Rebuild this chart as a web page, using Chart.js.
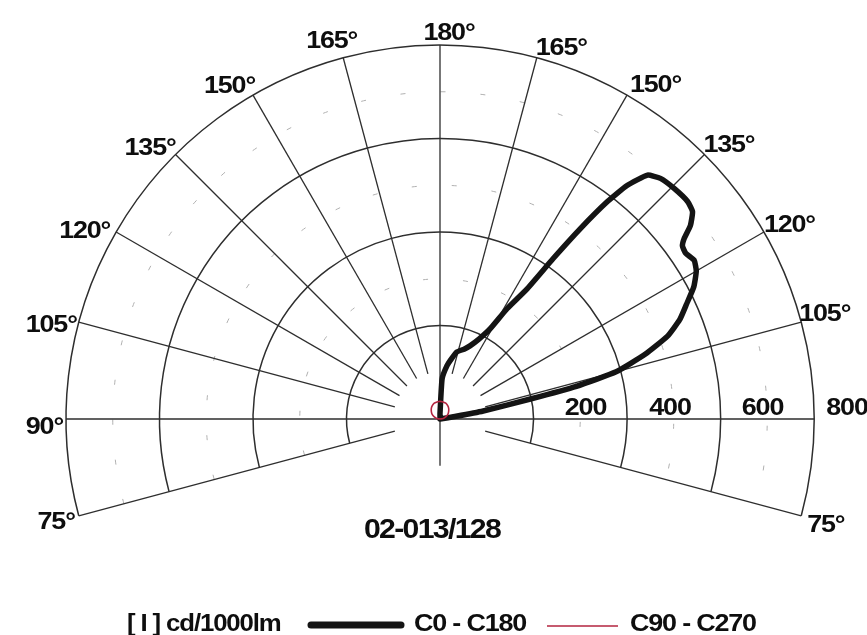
<!DOCTYPE html>
<html>
<head>
<meta charset="utf-8">
<script src="https://cdn.jsdelivr.net/npm/chart.js@4.4.0/dist/chart.umd.min.js"></script>
<style>
    html, body { margin: 0; padding: 0; background: #fff; }
    #wrap { width: 867px; height: 635px; }
</style>
</head>
<body>
<div id="wrap"><canvas id="polarChart" width="867" height="635"></canvas></div>
<script>
// Data (gamma in degrees, intensity in cd/1000lm)
const c0Angles = [90, 98, 99.5, 100.5, 102.5, 103.5, 105, 107.5, 110, 112.5, 115, 117.5, 120, 122, 124, 125.5, 126.5, 127.7, 129.4, 131.3, 134.5, 137.5, 139.6, 141.3, 142.4, 143.6, 144.8, 146.2, 148.7, 150.9, 154, 157.7, 161, 165.8, 169, 172.5, 177, 180];
const c0Values = [0, 0, 35, 94, 198, 300, 390, 460, 518, 555, 582, 612, 633, 641, 634, 637, 650, 677, 699, 705, 703, 698, 685, 640, 587, 506, 420, 335, 276, 221, 190, 169, 158, 148, 132, 115, 86, 12];
const c180Angles = [180, 178, 150, 120, 90];
const c180Values = [12, 0, 0, 0, 0];

const c90Angles = [90, 100, 110, 120, 130, 140, 150, 160, 170, 180];
const c90Values = [0, 7, 13, 19, 24, 29, 33, 36, 37, 38];
const c270Angles = [180, 170, 160, 150, 140, 130, 120, 110, 100, 90];
const c270Values = [38, 37, 36, 33, 29, 24, 19, 13, 7, 0];

const ringValues = [200, 400, 600, 800];
const dashedRingValues = [300, 500, 700];
const spokeAngles = [75, 90, 105, 120, 135, 150, 165];
const ringLabels = ['200', '400', '600', '800'];

const titleText = '02-013/128';
const unitText = '[ I ] cd/1000lm';
const legendC0 = 'C0 - C180';
const legendC90 = 'C90 - C270';

// Layout
const SCALE = 0.4675;     // px per cd
const ORIGIN_X = 440;
const ORIGIN_Y = 419;
const W = 867, H = 635;
const DEG = Math.PI / 180;
const FONT = '"Liberation Sans", Arial, Helvetica, sans-serif';

const BLACK = '#141414';
const RED = '#b3243f';
const GRID = '#2e2e2e';

// polar -> cartesian in data units, side +1 = right (C0 / C90), -1 = left
function toXY(angles, values, side) {
    return angles.map((g, i) => ({
        x: side * values[i] * Math.sin(g * DEG),
        y: -values[i] * Math.cos(g * DEG)
    }));
}

const c0c180Data = toXY(c0Angles, c0Values, 1).concat(toXY(c180Angles, c180Values, -1));
const c90c270Data = toXY(c90Angles, c90Values, 1).concat(toXY(c270Angles, c270Values, -1));

// the original lettering is heavy, tightly spaced and a bit wide
function drawText(ctx, text, x, y, size, align, stretch = 1.17, spacing = -1) {
    ctx.save();
    ctx.translate(x, y);
    ctx.scale(stretch, 1);
    ctx.font = 'bold ' + size + 'px ' + FONT;
    ctx.letterSpacing = spacing + 'px';
    ctx.fillStyle = '#0e0e0e';
    ctx.textAlign = align;
    ctx.textBaseline = 'middle';
    ctx.fillText(text, 0, 0);
    ctx.restore();
}

// label nudges relative to spoke ends [dx, dy]
const rightNudge = { 75: [6, 10], 105: [-2, -8], 120: [0, -6], 135: [-1, -9], 150: [3, -9], 165: [-1, -9] };
const leftNudge = { 75: [-4, 7], 90: [-3, 9], 105: [-2, 3], 120: [-6, 0], 135: [0, -6], 150: [2, -8], 165: [14, -16] };
const ringLabelShift = [52, 43, 42, 33];

const polarGrid = {
    id: 'polarGrid',
    beforeDatasetsDraw(chart) {
        const { ctx, scales: { x, y } } = chart;
        const cx = x.getPixelForValue(0);
        const cy = y.getPixelForValue(0);
        const rad = v => x.getPixelForValue(v) - cx;
        const a0 = Math.atan2(Math.cos(75 * DEG), -Math.sin(75 * DEG));
        const a1 = Math.atan2(Math.cos(75 * DEG), Math.sin(75 * DEG));

        ctx.save();
        // faint dashed rings
        ctx.strokeStyle = '#b0b0b0';
        ctx.lineWidth = 1;
        ctx.setLineDash([5, 35]);
        dashedRingValues.forEach(v => {
            ctx.beginPath();
            ctx.arc(cx, cy, rad(v), a0, a1, false);
            ctx.stroke();
        });
        ctx.setLineDash([]);

        // solid rings
        ctx.strokeStyle = GRID;
        ctx.lineWidth = 1.5;
        ringValues.forEach(v => {
            ctx.beginPath();
            ctx.arc(cx, cy, rad(v), a0, a1, false);
            ctx.stroke();
        });

        // spokes
        ctx.lineWidth = 1.3;
        const rOut = rad(ringValues[ringValues.length - 1]);
        const rIn = rad(100);
        [-1, 1].forEach(side => {
            spokeAngles.forEach(g => {
                if (g === 90) return;
                const dx = side * Math.sin(g * DEG), dy = Math.cos(g * DEG);
                ctx.beginPath();
                ctx.moveTo(cx + dx * rIn, cy + dy * rIn);
                ctx.lineTo(cx + dx * rOut, cy + dy * rOut);
                ctx.stroke();
            });
        });
        // axes
        ctx.beginPath();
        ctx.moveTo(cx - rOut, cy);
        ctx.lineTo(cx + rOut, cy);
        ctx.moveTo(cx, cy - rOut);
        ctx.lineTo(cx, cy + rIn);
        ctx.stroke();
        ctx.restore();
    },
    afterDraw(chart) {
        const { ctx, scales: { x, y } } = chart;
        const cx = x.getPixelForValue(0);
        const cy = y.getPixelForValue(0);
        const rOut = x.getPixelForValue(ringValues[ringValues.length - 1]) - cx;

        // angle labels
        spokeAngles.forEach(g => {
            const ex = Math.sin(g * DEG) * rOut, ey = Math.cos(g * DEG) * rOut;
            if (rightNudge[g]) {
                drawText(ctx, g + '°', cx + ex + rightNudge[g][0], cy + ey + rightNudge[g][1], 23, 'left');
            }
            if (leftNudge[g]) {
                drawText(ctx, g + '°', cx - ex + leftNudge[g][0], cy + ey + leftNudge[g][1], 23, 'right');
            }
        });
        drawText(ctx, '180°', cx + 9, cy - rOut - 11, 23, 'center');

        // intensity labels
        ringValues.forEach((v, i) => {
            drawText(ctx, ringLabels[i], x.getPixelForValue(v) + ringLabelShift[i], cy - 10, 23, 'center');
        });

        drawText(ctx, titleText, 432, 531, 27, 'center', 1.12, -1.5);

        // legend
        const ly = 625;
        drawText(ctx, unitText, 127, ly, 23, 'left', 1.12, -1);
        ctx.save();
        ctx.lineCap = 'round';
        ctx.strokeStyle = BLACK;
        ctx.lineWidth = 7;
        ctx.beginPath();
        ctx.moveTo(311, ly);
        ctx.lineTo(401, ly);
        ctx.stroke();
        ctx.lineCap = 'butt';
        ctx.strokeStyle = RED;
        ctx.lineWidth = 1.6;
        ctx.beginPath();
        ctx.moveTo(547, ly + 1);
        ctx.lineTo(618, ly + 1);
        ctx.stroke();
        ctx.restore();
        drawText(ctx, legendC0, 414, ly, 23, 'left');
        drawText(ctx, legendC90, 630, ly, 23, 'left');
    }
};

const ctx = document.getElementById('polarChart').getContext('2d');
const chart = new Chart(ctx, {
    type: 'scatter',
    data: {
        datasets: [
            {
                label: legendC90,
                data: c90c270Data,
                showLine: true,
                borderColor: RED,
                borderWidth: 1.6,
                pointRadius: 0,
                tension: 0.4,
                order: 0
            },
            {
                label: legendC0,
                data: c0c180Data,
                showLine: true,
                borderColor: BLACK,
                borderWidth: 5.5,
                pointRadius: 0,
                tension: 0.15,
                borderJoinStyle: 'round',
                borderCapStyle: 'round',
                order: 1
            }
        ]
    },
    options: {
        responsive: false,
        animation: false,
        layout: { padding: 0 },
        scales: {
            x: { type: 'linear', display: false, min: -ORIGIN_X / SCALE, max: (W - ORIGIN_X) / SCALE },
            y: { type: 'linear', display: false, min: -(H - ORIGIN_Y) / SCALE, max: ORIGIN_Y / SCALE }
        },
        plugins: {
            legend: { display: false },
            tooltip: { enabled: false }
        }
    },
    plugins: [polarGrid]
});
</script>
</body>
</html>
